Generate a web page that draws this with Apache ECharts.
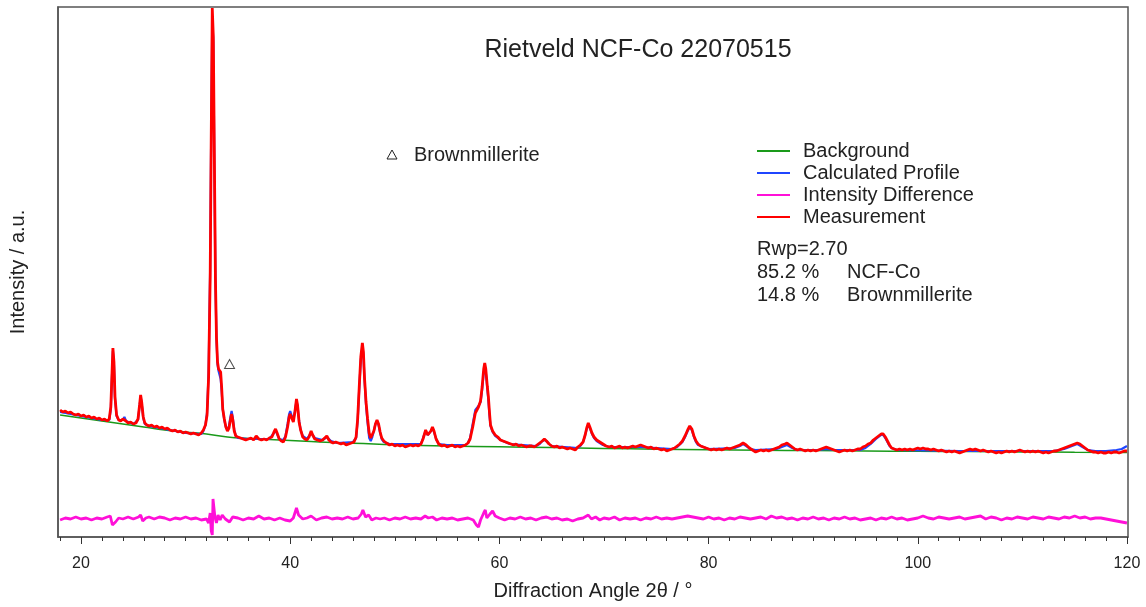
<!DOCTYPE html>
<html>
<head>
<meta charset="utf-8">
<script src="https://cdn.jsdelivr.net/npm/echarts@6/dist/echarts.min.js"></script>
<style>html,body{margin:0;padding:0;background:#fff}#c{width:1146px;height:607px}</style>
</head>
<body>
<div id="c"></div>
<script>
// ---- data (2θ in degrees, intensity in arbitrary units) ----
const xMajorTicks = [20, 40, 60, 80, 100, 120];
const xMinorTicks = [18,22,24,26,28,30,32,34,36,38,42,44,46,48,50,52,54,56,58,62,64,66,68,70,72,74,76,78,82,84,86,88,90,92,94,96,98,102,104,106,108,110,112,114,116,118];

const measured = [
[18.0,127],[18.25,125],[18.5,126],[18.75,124],[19.0,125],[19.25,123],[19.5,122],[19.75,123],[20.0,121],[20.25,122],[20.5,120],[20.75,121],[21.0,119],[21.25,120],[21.5,118],[21.75,119],[22.0,117],[22.25,118],[22.5,116],[22.7,118],[22.85,130],[22.95,160],[23.05,189],[23.15,175],[23.25,140],[23.4,122],[23.6,117],[23.8,116],[24.0,118],[24.15,119],[24.3,116],[24.5,114],[24.75,115],[25.0,113],[25.25,114],[25.45,118],[25.6,132],[25.7,142],[25.8,135],[25.95,120],[26.1,114],[26.3,112],[26.5,111],[26.75,112],[27.0,110],[27.25,111],[27.5,109],[27.75,110],[28.0,108],[28.25,109],[28.5,107],[28.75,106],[29.0,107],[29.25,105],[29.5,106],[29.75,104],[30.0,105],[30.25,104],[30.5,103],[30.75,104],[31.0,103],[31.25,102],[31.5,104],[31.7,107],[31.9,112],[32.05,122],[32.2,160],[32.35,260],[32.45,400],[32.55,529],[32.65,500],[32.75,380],[32.85,260],[32.95,200],[33.05,175],[33.15,168],[33.25,167],[33.35,165],[33.45,149],[33.55,128],[33.7,118],[33.85,110],[34.0,106],[34.15,109],[34.3,118],[34.4,123],[34.5,118],[34.65,106],[34.8,101],[35.0,100],[35.25,99],[35.5,98],[35.75,97],[36.0,98],[36.25,99],[36.5,97],[36.75,101],[36.85,102],[37.0,98],[37.25,97],[37.5,98],[37.75,97],[38.0,99],[38.25,100],[38.45,105],[38.6,108],[38.75,104],[38.95,98],[39.15,96],[39.35,95],[39.55,100],[39.75,110],[39.9,120],[40.0,123],[40.15,119],[40.3,115],[40.45,125],[40.6,138],[40.7,132],[40.85,115],[41.0,107],[41.2,100],[41.4,98],[41.6,97],[41.8,100],[42.0,106],[42.15,102],[42.35,98],[42.6,97],[42.85,96],[43.1,97],[43.3,99],[43.5,101],[43.7,97],[43.9,95],[44.1,94],[44.35,95],[44.6,94],[44.85,93],[45.1,94],[45.35,92],[45.6,93],[45.85,94],[46.1,95],[46.3,100],[46.45,118],[46.6,150],[46.75,180],[46.9,194],[47.0,185],[47.1,160],[47.25,135],[47.4,118],[47.55,104],[47.7,99],[47.85,101],[48.0,106],[48.15,113],[48.3,117],[48.45,113],[48.6,105],[48.75,99],[48.95,96],[49.2,94],[49.5,92],[49.75,93],[50.0,91],[50.25,92],[50.5,91],[50.75,92],[51.0,90],[51.25,91],[51.5,92],[51.75,91],[52.0,92],[52.25,91],[52.5,93],[52.7,98],[52.95,107],[53.15,102],[53.3,101],[53.45,106],[53.6,110],[53.75,106],[53.95,98],[54.2,93],[54.5,91],[54.75,92],[55.0,90],[55.25,91],[55.5,92],[55.75,90],[56.0,91],[56.25,90],[56.5,91],[56.75,92],[57.0,94],[57.2,98],[57.45,110],[57.7,124],[58.0,130],[58.2,136],[58.35,150],[58.5,168],[58.6,174],[58.7,168],[58.85,150],[58.95,140],[59.05,125],[59.15,112],[59.35,106],[59.6,102],[59.85,100],[60.1,97],[60.35,96],[60.6,95],[60.85,94],[61.1,93],[61.35,92],[61.6,93],[61.85,91],[62.1,92],[62.35,91],[62.6,90],[62.85,91],[63.1,91],[63.35,90],[63.6,92],[63.85,94],[64.1,96],[64.3,98],[64.5,96],[64.75,93],[65.0,91],[65.25,90],[65.5,91],[65.75,89],[66.0,90],[66.25,89],[66.5,88],[66.75,89],[67.0,88],[67.25,87],[67.5,90],[67.75,92],[68.0,95],[68.2,102],[68.35,109],[68.5,114],[68.65,110],[68.85,104],[69.05,100],[69.3,97],[69.6,95],[69.9,93],[70.2,91],[70.5,90],[70.75,91],[71.0,89],[71.25,90],[71.5,91],[71.75,89],[72.0,90],[72.25,89],[72.5,90],[72.75,91],[73.0,90],[73.25,91],[73.5,92],[73.75,91],[74.0,90],[74.25,89],[74.5,90],[74.75,88],[75.0,89],[75.25,88],[75.5,87],[75.75,88],[76.0,86],[76.25,87],[76.5,88],[76.75,89],[77.0,91],[77.25,93],[77.5,96],[77.75,101],[78.0,107],[78.2,111],[78.4,108],[78.6,101],[78.8,96],[79.0,93],[79.25,91],[79.5,90],[79.75,89],[80.0,88],[80.25,87],[80.5,88],[80.75,87],[81.0,88],[81.25,87],[81.5,88],[81.75,89],[82.0,88],[82.25,89],[82.5,90],[82.75,91],[83.0,92],[83.3,94],[83.6,92],[83.9,89],[84.2,87],[84.5,85],[84.75,86],[85.0,87],[85.25,86],[85.5,87],[85.75,86],[86.0,87],[86.25,88],[86.5,89],[86.75,90],[87.0,92],[87.3,93],[87.5,94],[87.75,92],[88.0,90],[88.25,88],[88.5,87],[88.75,88],[89.0,87],[89.25,86],[89.5,87],[89.75,86],[90.0,87],[90.25,86],[90.5,87],[90.75,88],[91.0,89],[91.25,90],[91.5,89],[91.75,88],[92.0,87],[92.25,86],[92.5,85],[92.75,86],[93.0,87],[93.25,86],[93.5,87],[93.75,86],[94.0,87],[94.25,88],[94.5,88],[94.75,90],[95.0,91],[95.25,93],[95.5,94],[95.75,97],[96.0,99],[96.25,101],[96.5,103],[96.7,103],[96.9,100],[97.1,96],[97.3,92],[97.5,89],[97.75,88],[98.0,87],[98.25,88],[98.5,87],[98.75,88],[99.0,87],[99.25,88],[99.5,87],[99.75,88],[100.0,89],[100.25,88],[100.5,89],[100.75,88],[101.0,88],[101.25,87],[101.5,88],[101.75,87],[102.0,86],[102.25,87],[102.5,86],[102.75,85],[103.0,86],[103.25,85],[103.5,86],[103.75,85],[104.0,84],[104.25,85],[104.5,86],[104.75,87],[105.0,88],[105.25,87],[105.5,88],[105.75,87],[106.0,86],[106.25,87],[106.5,86],[106.75,85],[107.0,86],[107.25,85],[107.5,84],[107.75,85],[108.0,84],[108.25,85],[108.5,86],[108.75,85],[109.0,86],[109.25,85],[109.5,86],[109.75,87],[110.0,86],[110.25,85],[110.5,86],[110.75,85],[111.0,86],[111.25,85],[111.5,86],[111.75,85],[112.0,84],[112.25,85],[112.5,84],[112.75,85],[113.0,86],[113.25,86],[113.5,87],[113.75,88],[114.0,89],[114.25,90],[114.5,91],[114.75,92],[115.0,93],[115.25,94],[115.5,93],[115.75,91],[116.0,89],[116.25,87],[116.5,86],[116.75,85],[117.0,85],[117.25,84],[117.5,85],[117.75,84],[118.0,84],[118.25,85],[118.5,84],[118.75,85],[119.0,85],[119.25,84],[119.5,85],[119.75,86],[120.0,86]
];

const calculated = [
[18,125],[19,123],[20,121],[21,119],[22,117],[22.7,117],[22.85,128],[22.95,158],[23.05,186],[23.15,172],[23.25,138],[23.4,121],[23.6,117],[24,117],[24.15,120],[24.3,116],[25,113],[25.45,117],[25.6,131],[25.7,140],[25.8,134],[25.95,119],[26.1,113],[26.5,111],[28,108],[30,104],[31.5,103],[31.7,106],[31.9,112],[32.05,124],[32.2,165],[32.35,270],[32.45,410],[32.55,520],[32.65,495],[32.75,370],[32.85,255],[32.95,198],[33.05,173],[33.15,166],[33.25,164],[33.35,158],[33.45,146],[33.55,128],[33.7,117],[33.85,110],[34,107],[34.15,111],[34.3,121],[34.4,126],[34.5,120],[34.65,107],[34.8,101],[35,99],[36,98],[38,98],[38.45,104],[38.6,107],[38.75,103],[38.95,98],[39.35,97],[39.55,101],[39.75,113],[39.9,123],[40,126],[40.15,121],[40.3,117],[40.45,126],[40.6,136],[40.7,131],[40.85,116],[41,107],[41.2,101],[41.6,98],[42,104],[42.35,99],[43.1,97],[43.5,100],[43.9,96],[44.5,94],[46,95],[46.3,99],[46.45,116],[46.6,148],[46.75,177],[46.9,190],[47,182],[47.1,158],[47.25,132],[47.4,114],[47.55,99],[47.7,96],[47.85,100],[48,106],[48.15,113],[48.3,116],[48.45,112],[48.6,104],[48.75,98],[48.95,95],[49.5,93],[52.5,93],[52.7,99],[52.95,106],[53.15,102],[53.3,102],[53.45,106],[53.6,109],[53.75,105],[53.95,98],[54.2,93],[55,92],[56.75,92],[57,94],[57.2,99],[57.45,113],[57.7,127],[58,131],[58.2,135],[58.35,147],[58.5,164],[58.6,170],[58.7,165],[58.85,148],[58.95,136],[59.05,122],[59.15,111],[59.35,105],[59.6,101],[60.1,97],[61,93],[63.5,91],[63.85,93],[64.1,96],[64.3,97],[64.5,96],[64.75,93],[65,91],[67.5,89],[67.75,91],[68,95],[68.2,102],[68.35,108],[68.5,112],[68.65,109],[68.85,103],[69.05,99],[69.3,96],[69.9,92],[70.5,90],[73.5,90],[76.5,88],[77,90],[77.5,95],[77.75,100],[78,106],[78.2,110],[78.4,107],[78.6,100],[78.8,95],[79,92],[79.5,90],[80,88],[82.5,89],[83,91],[83.3,93],[83.6,91],[84,88],[84.5,87],[86.5,88],[87,90],[87.5,92],[88,89],[88.5,87],[90.5,87],[91.25,88],[92,87],[94.5,87],[95,89],[95.5,93],[96,98],[96.5,102],[96.7,102],[96.9,99],[97.1,95],[97.3,91],[97.5,89],[98,87],[104,86],[110,86],[113,86],[114,88],[115,92],[115.25,93],[115.75,90],[116.25,87],[117,86],[118,86],[119,87],[119.5,88],[120,91]
];

const background = [
[18,122],[20,119],[22,116],[24,113],[26,110],[28,107],[30,105],[32,103],[34,100],[36,98.5],[38,97.5],[40,96.5],[42,95.5],[44,94.5],[46,93.8],[48,93],[50,92.3],[55,91],[60,90.3],[65,89.4],[70,88.6],[75,87.8],[80,87.2],[85,86.8],[90,86.4],[95,86],[100,85.7],[105,85.4],[110,85.1],[115,84.8],[120,84.6]
];

const difference = [
[18,17],[18.5,19],[19,18],[19.5,20],[20,18],[20.5,19],[21,17],[21.5,19],[22,18],[22.5,20],[22.8,21],[23.0,12],[23.1,10],[23.3,15],[23.6,19],[24,18],[24.5,20],[25,18],[25.5,20],[25.7,22],[25.9,16],[26.2,19],[26.5,20],[27,18],[27.5,20],[28,19],[28.5,17],[29,19],[29.5,18],[30,20],[30.5,18],[31,19],[31.5,17],[32,18],[32.2,14],[32.35,24],[32.45,6],[32.55,2],[32.62,38],[32.7,30],[32.8,20],[32.95,14],[33.1,22],[33.3,17],[33.5,22],[33.8,18],[34.2,15],[34.5,20],[35,19],[35.5,17],[36,19],[36.5,18],[37,21],[37.5,18],[38,19],[38.5,17],[39,19],[39.5,17],[40,16],[40.3,19],[40.6,29],[40.8,22],[41.2,18],[41.6,19],[42,21],[42.5,17],[43,19],[43.5,20],[44,18],[44.5,19],[45,18],[45.5,20],[46,18],[46.5,19],[46.8,23],[46.95,27],[47.2,20],[47.5,22],[47.8,17],[48.2,19],[48.6,18],[49,19],[49.5,17],[50,19],[50.5,18],[51,20],[51.5,18],[52,19],[52.5,18],[52.9,21],[53.2,19],[53.6,20],[54,17],[54.5,19],[55,18],[55.5,19],[56,17],[56.5,18],[57,19],[57.5,17],[57.8,12],[58,10],[58.2,17],[58.5,24],[58.65,27],[58.8,19],[59.1,23],[59.35,26],[59.6,21],[60,19],[60.5,17],[61,19],[61.5,18],[62,20],[62.5,18],[63,19],[63.5,17],[64,19],[64.5,20],[65,18],[65.5,19],[66,17],[66.5,18],[67,16],[67.5,18],[68,19],[68.5,22],[68.8,18],[69.2,20],[69.6,17],[70,19],[70.5,18],[71,20],[71.5,17],[72,19],[72.5,18],[73,19],[73.5,17],[74,19],[74.5,18],[75,20],[75.5,18],[76,19],[76.5,18],[77,19],[77.5,20],[78,21],[78.5,20],[79,19],[79.5,18],[80,20],[80.5,18],[81,19],[81.5,17],[82,19],[82.5,18],[83,20],[83.5,19],[84,18],[84.5,19],[85,20],[85.5,18],[86,21],[86.5,19],[87,20],[87.5,18],[88,19],[88.5,17],[89,19],[89.5,18],[90,20],[90.5,18],[91,19],[91.5,17],[92,19],[92.5,18],[93,20],[93.5,18],[94,19],[94.5,17],[95,18],[95.5,19],[96,17],[96.5,19],[97,18],[97.5,20],[98,18],[98.5,19],[99,17],[99.5,18],[100,19],[100.5,21],[101,19],[101.5,18],[102,20],[102.5,19],[103,18],[103.5,19],[104,20],[104.5,18],[105,19],[105.5,20],[106,21],[106.5,18],[107,20],[107.5,19],[108,17],[108.5,19],[109,18],[109.5,20],[110,19],[110.5,18],[111,20],[111.5,19],[112,18],[112.5,20],[113,19],[113.5,18],[114,20],[114.5,19],[115,21],[115.5,19],[116,20],[116.5,18],[117,19],[117.5,19],[118,18],[118.5,17],[119,16],[119.5,15],[120,14]
];

// Brownmillerite reflection marker
const brownmilleriteMarks = [[34.2, 173]];

const legendNames = ['Background', 'Calculated Profile', 'Intensity Difference', 'Measurement'];
const titleText = 'Rietveld NCF-Co 22070515';
const statsLines = [['Rwp=2.70', ''], ['85.2 %', 'NCF-Co'], ['14.8 %', 'Brownmillerite']];

// ---- chart ----
const FONT = 'Arial, "Liberation Sans", sans-serif';
const chart = echarts.init(document.getElementById('c'), null, {renderer: 'canvas'});

const triPath = 'path://M5,0 L10,9 L0,9 Z';

const graphics = [
  {type: 'text', style: {text: titleText, x: 638, y: 50, font: '25px ' + FONT, fill: '#222', align: 'center', verticalAlign: 'middle'}},
  {type: 'polygon', shape: {points: [[392, 150], [397, 159], [387, 159]]}, style: {fill: '#fff', stroke: '#222', lineWidth: 1}},
  {type: 'text', style: {text: 'Brownmillerite', x: 414, y: 155, font: '20px ' + FONT, fill: '#222', verticalAlign: 'middle'}}
];
const statY = [249, 272, 295];
statsLines.forEach((s, i) => {
  graphics.push({type: 'text', style: {text: s[0], x: 757, y: statY[i], font: '20px ' + FONT, fill: '#222', verticalAlign: 'middle'}});
  if (s[1]) graphics.push({type: 'text', style: {text: s[1], x: 847, y: statY[i], font: '20px ' + FONT, fill: '#222', verticalAlign: 'middle'}});
});

const option = {
  animation: false,
  backgroundColor: '#fff',
  textStyle: {fontFamily: FONT},
  grid: {left: 58, right: 18, top: 7, bottom: 70, show: true, borderColor: '#555', borderWidth: 1.5, containLabel: false, outerBoundsMode: 'none'},
  legend: {
    data: legendNames,
    orient: 'vertical',
    left: 752, top: 136,
    itemWidth: 33, itemHeight: 2,
    itemGap: 2,
    icon: 'rect',
    textStyle: {fontSize: 20, color: '#222', fontFamily: FONT, padding: [0, 0, 0, 8], lineHeight: 20}
  },
  xAxis: [
    {
      type: 'value', min: 17.8, max: 120.1, position: 'bottom',
      name: 'Diffraction Angle 2θ / °', nameLocation: 'middle', nameGap: 44,
      nameTextStyle: {fontSize: 20, color: '#222', fontFamily: FONT},
      axisLine: {show: true, lineStyle: {color: '#555', width: 1.5}},
      axisTick: {show: true, inside: false, length: 7, lineStyle: {color: '#333'}, customValues: xMajorTicks},
      axisLabel: {show: true, fontSize: 16, color: '#222', margin: 19, customValues: xMajorTicks},
      splitLine: {show: false}
    },
    {
      type: 'value', min: 17.8, max: 120.1, position: 'bottom', offset: 0,
      axisLine: {show: false},
      axisTick: {show: true, inside: false, length: 4, lineStyle: {color: '#333'}, customValues: xMinorTicks},
      axisLabel: {show: false},
      splitLine: {show: false}
    }
  ],
  yAxis: {
    type: 'value', min: 0, max: 530,
    name: 'Intensity / a.u.', nameLocation: 'middle', nameGap: 30, nameRotate: 90,
    nameTextStyle: {fontSize: 20, color: '#222', fontFamily: FONT},
    axisLine: {show: true, lineStyle: {color: '#555', width: 1.5}},
    axisTick: {show: false}, axisLabel: {show: false}, splitLine: {show: false}
  },
  series: [
    {name: 'Background', type: 'line', data: background, showSymbol: false, smooth: true, lineStyle: {color: '#1a9a1a', width: 1.5}, itemStyle: {color: '#1a9a1a'}, z: 2},
    {name: 'Calculated Profile', type: 'line', data: calculated, showSymbol: false, lineStyle: {color: '#1f45ff', width: 2.2}, itemStyle: {color: '#1f45ff'}, z: 3},
    {name: 'Intensity Difference', type: 'line', data: difference, showSymbol: false, lineStyle: {color: '#ff10d8', width: 2.8}, itemStyle: {color: '#ff10d8'}, z: 4},
    {name: 'Measurement', type: 'line', data: measured, showSymbol: false, lineStyle: {color: '#ff0000', width: 2.8}, itemStyle: {color: '#ff0000'}, z: 5},
    {name: 'Brownmillerite marks', type: 'scatter', data: brownmilleriteMarks, symbol: triPath, symbolSize: [10, 9], itemStyle: {color: '#fff', borderColor: '#222', borderWidth: 1}, z: 6}
  ],
  graphic: graphics
};
chart.setOption(option);
</script>
</body>
</html>
